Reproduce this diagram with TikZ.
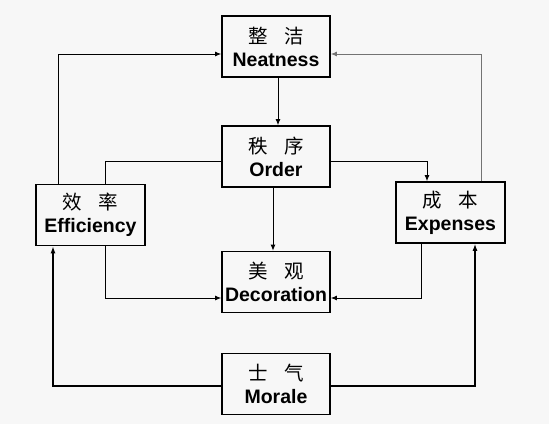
\documentclass[tikz,border=0pt]{standalone}
\usepackage{fontspec}
\setmainfont{Liberation Sans}
\newfontfamily\cjk{Noto Sans CJK SC}
\usetikzlibrary{arrows.meta}
\definecolor{bgpaper}{HTML}{F7F7F7}

\begin{document}
\begin{tikzpicture}[x=1pt, y=-1pt,
    box/.style={rectangle, draw, line width=1.8pt, fill=bgpaper, minimum width=108pt,
                minimum height=61pt, inner sep=0pt, align=center,
                font=\fontsize{19.5}{23}\selectfont\bfseries},
    arr/.style={-{Latex[length=6pt, width=5pt]}, line width=0.8pt},
    link/.style={line width=0.8pt},
    thickarr/.style={-{Latex[length=7pt, width=5pt]}, line width=1.1pt},
]
\fill[bgpaper] (0,0) rectangle (549,424);
\useasboundingbox (0,0) rectangle (549,424);

\node[box] (neat) at (276, 46.5)  {{\cjk\mdseries\fontsize{19.5}{23}\selectfont 整\hspace{0.85em}洁}\\Neatness};
\node[box] (ord)  at (276, 156.5) {{\cjk\mdseries\fontsize{19.5}{23}\selectfont 秩\hspace{0.85em}序}\\Order};
\node[box, minimum width=109pt] (eff)  at (90.5, 215)  {{\cjk\mdseries\fontsize{19.5}{23}\selectfont 效\hspace{0.85em}率}\\Efficiency};
\node[box, minimum width=109pt] (exps) at (450.5, 212.5) {{\cjk\mdseries\fontsize{19.5}{23}\selectfont 成\hspace{0.85em}本}\\Expenses};
\node[box] (deco) at (276, 282)   {{\cjk\mdseries\fontsize{19.5}{23}\selectfont 美\hspace{0.85em}观}\\Decoration};
\node[box] (mor)  at (276, 384)   {{\cjk\mdseries\fontsize{19.5}{23}\selectfont 士\hspace{0.85em}气}\\Morale};

\draw[arr] ([xshift=2pt]neat.south) -- ([xshift=2pt]ord.north);
\draw[arr] ([xshift=-32.5pt]eff.north) |- ([yshift=-7.5pt]neat.west);
\draw[arr, black!55] ([xshift=30.5pt]exps.north) |- ([yshift=-7.5pt]neat.east);
\draw[link] ([yshift=-4.5pt]ord.west) -| ([xshift=14.5pt]eff.north);
\draw[arr] ([yshift=-4.5pt]ord.east) -| ([xshift=-23.5pt]exps.north);
\draw[arr] ([xshift=-3pt]ord.south) -- ([xshift=-3pt]deco.north);
\draw[arr] ([xshift=14.5pt]eff.south) |- ([yshift=-16pt]deco.west);
\draw[arr] ([xshift=-29.5pt]exps.south) |- ([yshift=-16pt]deco.east);
\draw[thickarr] ([yshift=-2pt]mor.west) -| ([xshift=-37.5pt]eff.south);
\draw[thickarr] ([yshift=-2pt]mor.east) -| ([xshift=24.5pt]exps.south);
\end{tikzpicture}
\end{document}
